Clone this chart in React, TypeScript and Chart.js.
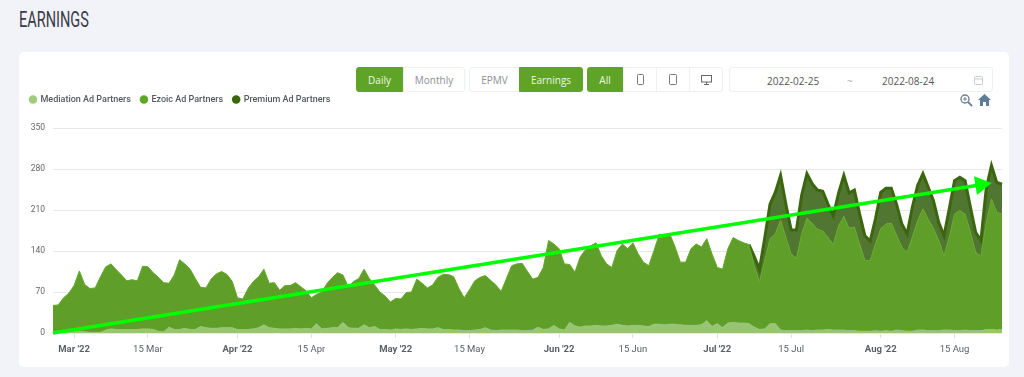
import React, { useEffect, useRef } from "react";
import { Chart, registerables } from "chart.js";

Chart.register(...registerables);

const seriesNames = ["Mediation Ad Partners", "Ezoic Ad Partners", "Premium Ad Partners"];
const yTicks = [0, 70, 140, 210, 280, 350];
const xTickLabels: Record<number, string> = {
  4: "Mar '22", 18: "15 Mar", 35: "Apr '22", 49: "15 Apr", 65: "May '22", 79: "15 May",
  96: "Jun '22", 110: "15 Jun", 126: "Jul '22", 140: "15 Jul", 157: "Aug '22", 171: "15 Aug",
};
const monthTickIndexes = [4, 35, 65, 96, 126, 157];

// Stack boundaries
const mediation = [
  2,2,1,1,2,3,2,1,1,1,5,7,6,6,6,6,6,7,7,6,3,2,10,6,6,8,6,6,11,9,
  8,8,9,9,9,6,6,6,7,9,14,9,8,7,7,7,8,7,8,7,16,7,8,9,9,18,9,8,8,14,
  9,11,6,6,5,7,6,7,6,7,8,7,7,9,6,6,5,5,4,4,5,6,9,5,4,5,5,5,5,4,
  4,5,10,6,7,13,7,5,18,12,10,12,12,13,12,12,13,15,13,12,13,13,12,11,15,15,14,15,15,14,
  13,13,13,14,21,11,16,9,17,18,17,17,16,10,6,7,16,16,5,4,4,4,4,5,4,5,5,6,5,5,
  5,4,4,3,3,3,4,3,4,3,5,4,3,3,5,5,4,4,4,5,5,4,4,5,4,4,4,6,6,5,6,
];
const ezoicTop = [
  47,48,60,68,81,106,83,76,77,96,113,118,108,99,89,91,89,114,113,103,95,86,85,99,125,118,109,93,78,77,
  92,101,105,100,88,60,58,76,88,96,109,85,86,73,81,81,86,79,72,60,66,70,85,95,103,99,79,88,93,109,
  93,82,70,63,53,59,58,69,70,92,85,77,82,95,100,100,96,76,60,74,89,95,98,90,82,71,93,115,118,119,
  105,92,95,112,158,152,144,118,117,104,130,142,149,154,132,118,112,141,152,144,154,135,121,115,141,169,163,169,147,121,
  121,144,152,147,161,135,112,109,144,163,158,154,151,115,88,124,161,169,193,164,135,127,169,196,187,177,174,163,151,183,
  199,179,181,152,124,124,152,178,186,188,167,147,138,164,192,212,194,179,158,132,164,203,209,203,172,138,131,189,229,206,203,
];
const premiumTop: (number | null)[] = [
  ...Array(132).fill(null),
  151,131,109,162,220,240,269,220,176,176,235,272,255,244,242,220,200,239,269,239,244,203,166,157,
  195,240,247,247,220,186,169,215,252,272,249,226,189,166,212,260,266,260,215,172,158,246,286,257,254,
];

const dayLabels = ezoicTop.map((_, i) =>
  new Date(Date.UTC(2022, 1, 25 + i)).toISOString().slice(0, 10)
);
const trendStartValue = 0;
const trendEndValue = 253;
const trendEndIndex = 176;
const trend = dayLabels.map((_, i) =>
  i === 0 ? trendStartValue : i === trendEndIndex ? trendEndValue : null
);

const ezoic = ezoicTop.map((v, i) => v - mediation[i]);
const premium = premiumTop.map((v, i) => (v === null ? null : v - ezoicTop[i]));

const UI = '"Open Sans", sans-serif';
const GREEN = "#5fa427";
const box = (l: number, w: number, extra: React.CSSProperties = {}): React.CSSProperties => ({
  position: "absolute", left: l, top: 67, width: w, height: 25, boxSizing: "border-box",
  display: "flex", alignItems: "center", justifyContent: "center",
  border: "1px solid #edf0f4", background: "#fff", color: "#8b8f94",
  font: `10px ${UI}`, ...extra,
});
const on: React.CSSProperties = { background: GREEN, borderColor: GREEN, color: "#eef8e2" };

function Phone({ w, h }: { w: number; h: number }) {
  return <svg width={w} height={h} viewBox={`0 0 ${w} ${h}`}><rect x=".5" y=".5" width={w - 1} height={h - 1} rx="1" fill="none" stroke="#777" /></svg>;
}

export default function App() {
  const ref = useRef<HTMLCanvasElement>(null);
  useEffect(() => {
    const legendSpace = {
      id: "legendSpace",
      beforeInit(chart: any) {
        const fit = chart.legend.fit;
        chart.legend.fit = function () {
          fit.call(this);
          this.height += 14;
        };
      },
    };
    const chart = new Chart(ref.current!, {
      type: "line",
      plugins: [legendSpace],
      data: {
        labels: dayLabels,
        datasets: [
          { label: seriesNames[0], data: mediation, stack: "rev", fill: "origin", backgroundColor: "#98c476", borderColor: "#98c476", borderWidth: 1, pointRadius: 0, tension: 0 },
          { label: seriesNames[1], data: ezoic, stack: "rev", fill: "-1", backgroundColor: "#5f9f29", borderColor: "#64a82c", borderWidth: 1, pointRadius: 0, tension: 0 },
          { label: seriesNames[2], data: premium, stack: "rev", fill: "-1", backgroundColor: "#517632", borderColor: "#3a660d", borderWidth: 3, pointRadius: 0, tension: 0 },
          {
            label: "Trend", data: trend, stack: "trend", fill: false, spanGaps: true, order: -1,
            borderColor: "#00ff00", backgroundColor: "#00ff00", borderWidth: 3.5,
            pointStyle: "triangle",
            pointRadius: (c: any) => (c.dataIndex === trendEndIndex ? 11 : 0),
            pointRotation: 81, pointBorderWidth: 0, pointBackgroundColor: "#00ff00", clip: false,
          } as any,
        ],
      },
      options: {
        animation: false,
        responsive: false,
        layout: { padding: { left: 20, right: 22, top: 85, bottom: 0 } },
        plugins: {
          tooltip: { enabled: false },
          legend: {
            position: "top",
            align: "start",
            labels: {
              usePointStyle: true, pointStyle: "circle", boxWidth: 6, boxHeight: 6, padding: 10,
              color: "#55585c", font: { family: "Roboto", size: 9, weight: "500" },
              generateLabels(c: any) {
                return Chart.defaults.plugins.legend.labels.generateLabels(c)
                  .filter((l: any) => l.text !== "Trend")
                  .map((l: any, i: number) => ({ ...l, lineWidth: 0, fillStyle: ["#a0cc7c", "#5ca823", "#386608"][i], strokeStyle: "transparent", pointStyle: "circle" }));
              },
            },
          },
        },
        scales: {
          x: {
            type: "category",
            grid: { drawOnChartArea: false, drawTicks: true, tickLength: 5, color: "#dde0e5" },
            border: { display: false },
            afterBuildTicks(s: any) {
              s.ticks = s.ticks.filter((t: any) => xTickLabels[t.value] !== undefined);
            },
            afterFit(s: any) { s.height = 44; },
            ticks: {
              autoSkip: false, maxRotation: 0, padding: 6, color: "#5c6066",
              font: (c: any) => ({ family: "Roboto", size: 9.5, weight: monthTickIndexes.includes(c.tick?.value) ? "bold" : "normal" }),
              callback: (v: any) => xTickLabels[v as number],
            },
          } as any,
          y: {
            stacked: true, min: 0, max: 350,
            grid: { color: "#e8e8e8", drawTicks: false },
            border: { display: false },
            afterBuildTicks(s: any) { s.ticks = yTicks.map((value) => ({ value })); },
            afterFit(s: any) { s.width = 33; },
            ticks: { padding: 8, color: "#666", font: { family: "Roboto", size: 8.5 } },
          } as any,
        },
      },
    } as any);
    return () => chart.destroy();
  }, []);

  return (
    <div style={{ position: "fixed", inset: 0, background: "#f1f3f8", overflow: "hidden" }}>
      <div style={{ position: "absolute", left: 19, top: 7, font: '400 22px/26px "Roboto", sans-serif', color: "#3a3a48", transform: "scaleX(0.66)", transformOrigin: "left" }}>EARNINGS</div>
      <div style={{ position: "absolute", left: 19, top: 52, width: 990, height: 315, background: "#fff", borderRadius: 5 }} />
      <div style={box(356, 47, { ...on, borderRadius: "3px 0 0 3px" })}>Daily</div>
      <div style={box(403, 62, { borderRadius: "0 3px 3px 0" })}>Monthly</div>
      <div style={box(469, 51, { borderRadius: "3px 0 0 3px" })}>EPMV</div>
      <div style={box(519, 64, { ...on, borderRadius: "0 3px 3px 0" })}>Earnings</div>
      <div style={box(587, 36, { ...on, borderRadius: "3px 0 0 3px" })}>All</div>
      <div style={box(623, 34)}><Phone w={7} h={11} /></div>
      <div style={box(656, 34)}><Phone w={8} h={11} /></div>
      <div style={box(689, 34, { borderRadius: "0 3px 3px 0" })}>
        <svg width="11" height="10" viewBox="0 0 11 10"><rect x=".5" y=".5" width="10" height="6.5" fill="none" stroke="#666" /><path d="M5.5 7v2M3 9.5h5" stroke="#666" /></svg>
      </div>
      <div style={box(729, 264, { borderRadius: 3 })} />
      {[["2022-02-25", 767, "#555"], ["~", 847, "#aaa"], ["2022-08-24", 882, "#555"]].map(([t, l, c]) => (
        <div key={t as string} style={{ position: "absolute", left: l as number, top: 74, font: `10px/14px ${UI}`, color: c as string }}>{t}</div>
      ))}
      <svg style={{ position: "absolute", left: 974, top: 75 }} width="9" height="10" viewBox="0 0 9 10"><rect x=".5" y="1.5" width="8" height="8" rx="1" fill="none" stroke="#c8ccd0" /><path d="M.5 4h8" stroke="#c8ccd0" /></svg>
      <svg style={{ position: "absolute", left: 960, top: 94 }} width="13" height="13" viewBox="0 0 13 13"><circle cx="5" cy="5" r="4" fill="none" stroke="#6b8299" strokeWidth="1.4" /><path d="M8 8l4 4" stroke="#6b8299" strokeWidth="1.8" /><path d="M3 5h4M5 3v4" stroke="#6b8299" /></svg>
      <svg style={{ position: "absolute", left: 978, top: 94 }} width="13" height="12" viewBox="0 0 13 12"><path d="M6.5 0L13 6h-2v6H8V8H5v4H2V6H0z" fill="#5f7d99" /></svg>
      <canvas ref={ref} width={1024} height={377} style={{ position: "absolute", left: 0, top: 0 }} />
    </div>
  );
}
